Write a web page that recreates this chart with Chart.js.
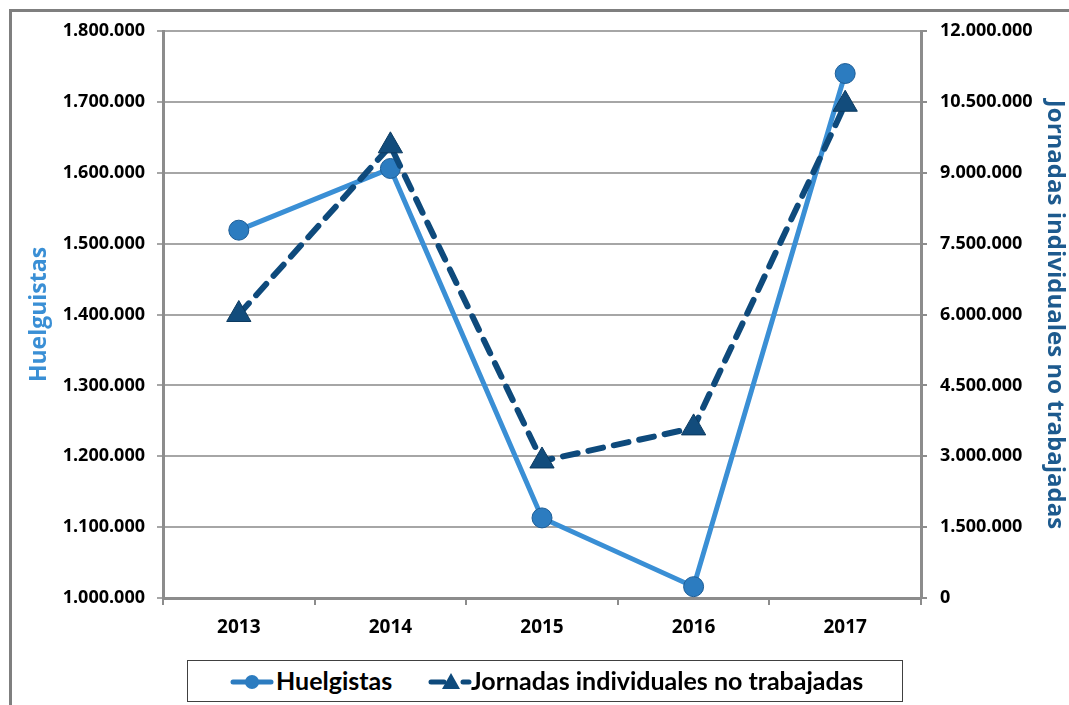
<!DOCTYPE html>
<html>
<head>
<meta charset="utf-8">
<script src="https://cdn.jsdelivr.net/npm/chart.js@4"></script>
<style>
  html, body { margin: 0; padding: 0; background: #fff; }
  body { width: 1069px; height: 705px; position: relative; overflow: hidden; }
  #frame { position: absolute; left: 9px; top: 9px; width: 1100px; height: 720px;
           border-top: 3px solid #7f7f7f; border-left: 3px solid #7f7f7f; }
  #wrap { position: absolute; left: 0; top: 0; width: 1069px; height: 645px; }
  #legend { position: absolute; left: 187px; top: 660px; width: 716px; height: 42px;
            border: 1px solid #404040; box-sizing: border-box;
            font: bold 25px Lato, sans-serif; color: #000; }
  #legend span.txt { position: absolute; top: 4px; }
  #legend canvas { position: absolute; top: 9px; }
</style>
</head>
<body>
<div id="frame"></div>
<div id="wrap"><canvas id="chart"></canvas></div>
<div id="legend">
  <canvas id="ic1" width="44" height="24" style="left:42px"></canvas>
  <span class="txt" style="left:88px">Huelgistas</span>
  <canvas id="ic2" width="44" height="24" style="left:240px"></canvas>
  <span class="txt" style="left:283px">Jornadas individuales no trabajadas</span>
</div>
<script>
// Data
const years = ['2013', '2014', '2015', '2016', '2017'];
const huelguistas = [1519000, 1606000, 1113000, 1016000, 1740000];
const jornadas = [6000000, 9570000, 2900000, 3600000, 10450000];

const lightBlue = '#3a8fd5';
const darkBlue = '#0e4a7c';

Chart.defaults.font.family = "'Open Sans', sans-serif";
Chart.defaults.color = '#000';

function fmt(v) {
    return Number(v).toLocaleString('de-DE');
}

new Chart(document.getElementById('chart'), {
    type: 'line',
    data: {
        labels: years,
        datasets: [{
            label: 'Huelgistas',
            data: huelguistas,
            yAxisID: 'y',
            borderColor: lightBlue,
            borderWidth: 5,
            pointStyle: 'circle',
            pointRadius: 10,
            pointBackgroundColor: '#2c7cc0',
            pointBorderColor: '#1d5d96',
            pointBorderWidth: 1,
            tension: 0,
            order: 1,
        }, {
            label: 'Jornadas individuales no trabajadas',
            data: jornadas,
            yAxisID: 'y1',
            borderColor: darkBlue,
            borderWidth: 6,
            borderDash: [15, 11],
            borderCapStyle: 'round',
            pointStyle: 'triangle',
            pointRadius: 14,
            pointBackgroundColor: '#124c7c',
            pointBorderColor: '#0b3a60',
            pointBorderWidth: 1,
            tension: 0,
            order: 0,
        }],
    },
    options: {
        responsive: true,
        maintainAspectRatio: false,
        animation: false,
        layout: { padding: { top: 31, left: 0, right: 0, bottom: 0 } },
        plugins: { legend: { display: false }, tooltip: { enabled: false } },
        scales: {
            x: {
                offset: true,
                grid: { offset: true, drawOnChartArea: false, tickLength: 7, color: '#8c8c8c', lineWidth: 2 },
                border: { color: '#8c8c8c', width: 3 },
                ticks: { font: { size: 19, weight: 'bold' }, padding: 11 },
                afterFit: function(s) { s.height = 47; },
            },
            y: {
                position: 'left',
                min: 1000000,
                max: 1800000,
                ticks: { stepSize: 100000, callback: fmt, font: { size: 18, weight: 'bold' }, padding: 12 },
                grid: { color: '#a6a6a6', lineWidth: 2, tickLength: 6 },
                border: { color: '#8c8c8c', width: 3 },
                title: { display: true, text: 'Huelguistas', color: lightBlue,
                         font: { size: 23, weight: 'bold' }, padding: { top: 26, bottom: 0 } },
                afterFit: function(s) { s.width = 163; },
            },
            y1: {
                position: 'right',
                min: 0,
                max: 12000000,
                ticks: { stepSize: 1500000, callback: fmt, font: { size: 18, weight: 'bold' }, padding: 13 },
                grid: { drawOnChartArea: false, color: '#8c8c8c', lineWidth: 2, tickLength: 6 },
                border: { color: '#8c8c8c', width: 3 },
                title: { display: true, text: 'Jornadas individuales no trabajadas', color: '#1d5a8e',
                         font: { size: 24, weight: 'bold' }, padding: { top: 0, bottom: 0 } },
                afterFit: function(s) { s.width = 148; },
            },
        },
    },
});

// Legend icons
function icon(id, w, marker, color, dashed) {
    const c = document.getElementById(id).getContext('2d');
    c.strokeStyle = color;
    c.lineWidth = 5;
    c.lineCap = 'round';
    c.beginPath();
    if (dashed) {
        c.moveTo(3, 12); c.lineTo(16, 12);
        c.moveTo(w - 9, 12); c.lineTo(w - 3, 12);
    } else {
        c.moveTo(3, 12); c.lineTo(w - 3, 12);
    }
    c.stroke();
    c.fillStyle = color;
    c.beginPath();
    if (marker === 'circle') {
        c.arc(w / 2, 12, 7, 0, Math.PI * 2);
    } else {
        c.moveTo(w / 2 + 1, 3); c.lineTo(w / 2 + 10, 19); c.lineTo(w / 2 - 8, 19); c.closePath();
    }
    c.fill();
}
icon('ic1', 44, 'circle', '#2c7cc0', false);
icon('ic2', 44, 'triangle', darkBlue, true);
</script>
</body>
</html>
